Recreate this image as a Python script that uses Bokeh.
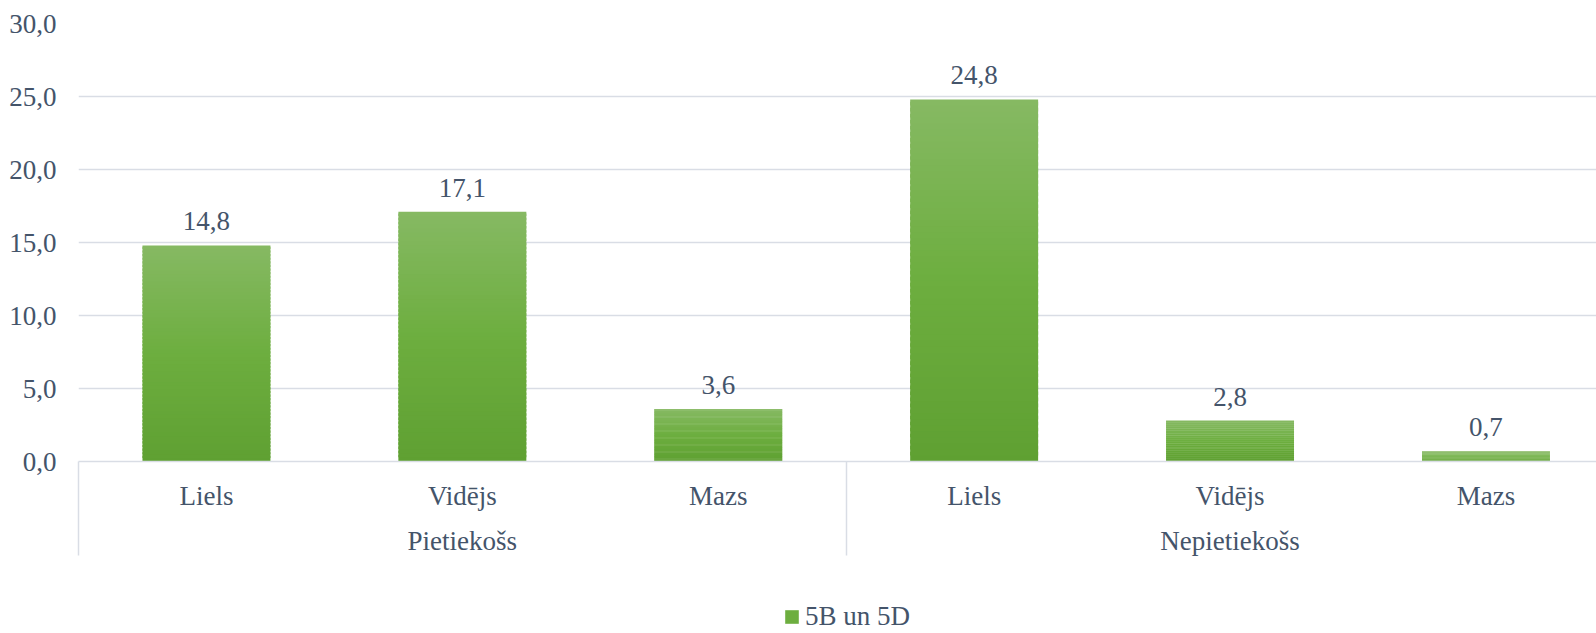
import numpy as np
from bokeh.plotting import figure
from bokeh.layouts import column
from bokeh.models import (Range1d, FixedTicker, LinearAxis, Legend, LegendItem,
                          ColumnDataSource, CustomJSTickFormatter, Grid)
from bokeh.core.properties import value
from bokeh.embed import file_html
from bokeh.resources import INLINE

# ---- data ----
groups = ["Pietiekošs", "Nepietiekošs"]
levels = ["Liels", "Vidējs", "Mazs"]
values = [14.8, 17.1, 3.6, 24.8, 2.8, 0.7]
series_name = "5B un 5D"
y_ticks = [0, 5, 10, 15, 20, 25, 30]

# ---- style ----
TEXT = "#44546A"
FONT = "Liberation Serif"
FS = "27px"
GRID = "#D9DDE5"
LEG_COLOR = "#6DAE3F"
STOPS = [(0.0, (95, 160, 50)), (0.5, (109, 174, 63)), (1.0, (134, 185, 99))]  # bottom -> top
NSTRIP = 60
BAR_W = 0.5

def grad(t):
    for (t0, c0), (t1, c1) in zip(STOPS[:-1], STOPS[1:]):
        if t <= t1:
            f = (t - t0) / (t1 - t0)
            c = [round(a + (b - a) * f) for a, b in zip(c0, c1)]
            return "#%02x%02x%02x" % tuple(c)
    return "#%02x%02x%02x" % STOPS[-1][1]

n_cat = len(groups) * len(levels)
centers = [i + 0.5 for i in range(n_cat)]
sub_labels = [lv for g in groups for lv in levels]
group_centers = [len(levels) * (j + 0.5) for j in range(len(groups))]
separators = [len(levels) * j for j in range(len(groups))]

# gradient bars: each bar split into horizontal strips (slight overlap to avoid seams)
xs, bots, tops, cols = [], [], [], []
for x, v in zip(centers, values):
    for k in range(NSTRIP):
        xs.append(x)
        bots.append(v * k / NSTRIP)
        ext = 0.6 if k < NSTRIP - 1 else 0.0
        tops.append(v * (k + 1 + ext) / NSTRIP)
        cols.append(grad((k + 0.5) / NSTRIP))
strip_src = ColumnDataSource(dict(x=xs, bottom=bots, top=tops, color=cols))

p = figure(width=1596, height=600, x_range=Range1d(0, 5.932), y_range=Range1d(0, 30),
           output_backend="svg", toolbar_location=None,
           x_axis_type=None, y_axis_type=None,
           min_border_left=78, min_border_right=0, min_border_top=23, min_border_bottom=139)
p.outline_line_color = None
p.background_fill_color = "white"

# grid
yticker = FixedTicker(ticks=y_ticks)
p.add_layout(Grid(dimension=1, ticker=yticker, grid_line_color=GRID, grid_line_width=1.5))

# y axis
yaxis = LinearAxis(ticker=yticker,
                   formatter=CustomJSTickFormatter(code="return tick.toFixed(1).replace('.', ',')"),
                   axis_line_color=None, major_tick_line_color=None, minor_tick_line_color=None,
                   major_label_text_font=FONT, major_label_text_font_size=FS,
                   major_label_text_color=TEXT, major_label_standoff=16)
p.add_layout(yaxis, "left")

# bars
p.vbar(x="x", bottom="bottom", top="top", width=BAR_W, fill_color="color",
       line_color=None, source=strip_src)

# data labels
lab_src = ColumnDataSource(dict(x=centers, y=values,
                                t=[("%.1f" % v).replace(".", ",") for v in values]))
p.text(x="x", y="y", text="t", source=lab_src, text_font=value(FONT),
       text_font_size=FS, text_color=TEXT, text_align="center",
       text_baseline="bottom", y_offset=-15)

# sub-category axis (with separators as long minor ticks)
xaxis1 = LinearAxis(ticker=FixedTicker(ticks=centers, minor_ticks=separators),
                    major_label_overrides={c: s for c, s in zip(centers, sub_labels)},
                    axis_line_color=GRID, axis_line_width=1.5,
                    major_tick_line_color=None, major_tick_out=0, major_tick_in=0,
                    minor_tick_line_color=GRID, minor_tick_line_width=1.5,
                    minor_tick_out=94, minor_tick_in=0,
                    major_label_text_font=FONT, major_label_text_font_size=FS,
                    major_label_text_color=TEXT, major_label_standoff=-75)
p.add_layout(xaxis1, "below")

xaxis2 = LinearAxis(ticker=FixedTicker(ticks=group_centers),
                    major_label_overrides={c: s for c, s in zip(group_centers, groups)},
                    axis_line_color=None, major_tick_line_color=None, minor_tick_line_color=None,
                    major_tick_out=0, major_tick_in=0,
                    major_label_text_font=FONT, major_label_text_font_size=FS,
                    major_label_text_color=TEXT, major_label_standoff=12)
p.add_layout(xaxis2, "below")

# legend in its own strip below the chart
lf = figure(width=1596, height=33, output_backend="svg", toolbar_location=None,
            x_axis_location=None, y_axis_location=None,
            min_border_left=0, min_border_right=0, min_border_top=0, min_border_bottom=0)
lf.outline_line_color = None
lf.grid.visible = False
leg_src = ColumnDataSource(dict(x=[0.0], top=[0.0]))
leg_r = lf.vbar(x="x", top="top", width=BAR_W, fill_color=LEG_COLOR, line_color=None,
                source=leg_src)
legend = Legend(items=[LegendItem(label=series_name, renderers=[leg_r])],
                location=(705, 1), orientation="horizontal",
                border_line_color=None, background_fill_alpha=0,
                label_text_font=FONT, label_text_font_size=FS, label_text_color=TEXT,
                glyph_width=17, glyph_height=17, label_standoff=5,
                padding=0, margin=0)
lf.add_layout(legend, "center")

open("out.html", "w").write(file_html(column(p, lf, spacing=0), INLINE))
